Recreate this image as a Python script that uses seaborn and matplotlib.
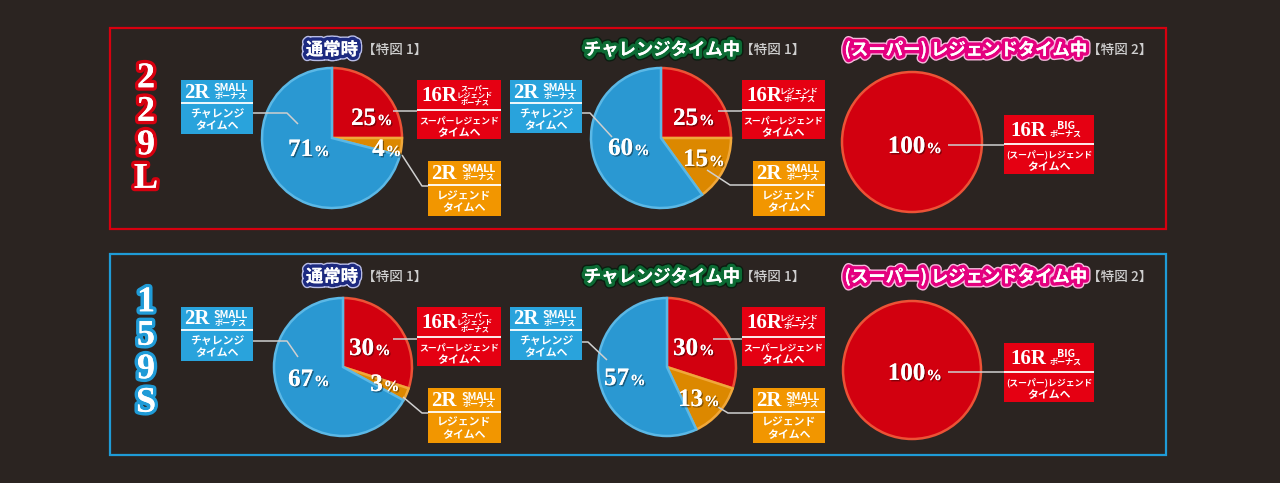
import matplotlib
matplotlib.use("Agg")
import matplotlib.pyplot as plt
import seaborn as sns
from matplotlib import patheffects as pe
from matplotlib.patches import Rectangle

# ---------------- data ----------------
machines = ["229L", "159S"]
mode_titles = ["通常時", "チャレンジタイム中", "(スーパー) レジェンドタイム中"]
tokuzu_labels = ["【特図 1】", "【特図 1】", "【特図 2】"]
# slice order: 16R (red), 2R SMALL -> legend (orange), 2R SMALL -> challenge (blue)
normal_229L = [25, 4, 71]
challenge_229L = [25, 15, 60]
legend_229L = [100]
normal_159S = [30, 3, 67]
challenge_159S = [30, 13, 57]
legend_159S = [100]

box_big = ["16R", "2R", "2R"]
box_small_normal = ["スーパー\nレジェンド\nボーナス", "SMALL\nボーナス", "SMALL\nボーナス"]
box_small_challenge = ["レジェンド\nボーナス", "SMALL\nボーナス", "SMALL\nボーナス"]
box_lower = ["スーパーレジェンド\nタイムへ", "レジェンド\nタイムへ", "チャレンジ\nタイムへ"]
legend_big = "16R"
legend_small = "BIG\nボーナス"
legend_lower = "(スーパー)レジェンド\nタイムへ"

# ---------------- style ----------------
BG = "#2b2421"
PIE_MAIN = ["#d2000f", "#dc8800", "#2a98d2"]
PIE_RIM = ["#ec5236", "#f0a73a", "#5bb8e6"]
BOX_COL = ["#e50012", "#f29600", "#29a3dc"]
PANEL_COL = ["#d7000f", "#1f9bd7"]
SERIF = "Liberation Serif"
JP = ["Noto Sans CJK JP", "DejaVu Sans"]

sns.set_theme(style="dark", rc={"figure.facecolor": BG, "axes.facecolor": BG})
plt.rcParams["font.family"] = JP

W, H = 1280, 483
fig = plt.figure(figsize=(12.8, 4.83), dpi=100)
ax = fig.add_axes([0, 0, 1, 1])
ax.set_facecolor(BG)

rows = [
    dict(dy=0, values=[normal_229L, challenge_229L, legend_229L],
         centers=[(332, 138, 70), (661, 138, 70), (912, 142, 70)],
         side_y=129),
    dict(dy=227, values=[normal_159S, challenge_159S, legend_159S],
         centers=[(343, 367, 69), (667, 367, 69), (912, 370, 69)],
         side_y=353),
]

# percent label positions per row / pie / slice (layout)
pct_pos = [
    [[(370, 117), (385, 148), (307, 148)],
     [(692, 117), (702, 158), (627, 147)],
     [(913, 145)]],
    [[(368, 347), (383, 383), (307, 378)],
     [(692, 347), (697, 398), (623, 377)],
     [(913, 372)]],
]
leaders = [
    [[[(393, 111), (417, 111)], [(402, 155), (422, 186), (429, 186)], [(253, 113), (287, 113), (298, 124)]],
     [[(718, 111), (742, 111)], [(707, 170), (730, 185), (753, 185)], [(582, 113), (590, 113), (612, 137)]],
     [[(948, 145), (1004, 145)]]],
    [[[(393, 339), (417, 339)], [(403, 397), (422, 413), (429, 413)], [(253, 341), (287, 341), (298, 357)]],
     [[(713, 339), (742, 339)], [(718, 407), (728, 413), (753, 413)], [(582, 342), (588, 342), (607, 360)]],
     [[(948, 372), (1004, 372)]]],
]
# boxes (x0, y0, x1, y1, separator) for top row; bottom row shifted by dy
box_geo = [
    [(417, 80, 501, 139, 110), (428, 161, 501, 216, 185), (181, 80, 253, 134, 103)],
    [(742, 80, 825, 139, 110), (753, 161, 825, 216, 185), (510, 80, 582, 133, 103)],
]
legend_box_geo = (1004, 115, 1094, 174, 144)
title_pos = [(332, 395), (662, 773), (966, 1120)]
title_fx = [
    [pe.withStroke(linewidth=7, foreground="#b9bde6"), pe.withStroke(linewidth=5, foreground="#1d2a80"), pe.Normal()],
    [pe.withStroke(linewidth=7, foreground="#0b1d10"), pe.withStroke(linewidth=5, foreground="#0c6b34"), pe.Normal()],
    [pe.withStroke(linewidth=7, foreground="#f6b8dc"), pe.withStroke(linewidth=5, foreground="#e4007f"), pe.Normal()],
]


def pct_label(x, y, val, size=18):
    s = str(val)
    cw = size * 0.5 * 100 / 72
    psize = size * 0.62
    pw = 0.83 * psize * 100 / 72
    wn = cw * len(s)
    left = x - (wn + pw) / 2
    base = y + 8
    fx = [pe.withSimplePatchShadow(offset=(1, -1), shadow_rgbFace="#000000", alpha=0.4), pe.Normal()]
    ax.text(left + wn, base, s, ha="right", va="baseline", family=SERIF, weight="bold",
            size=size, color="white", zorder=7, path_effects=fx)
    ax.text(left + wn + 1, base, "%", ha="left", va="baseline", family=SERIF, weight="bold",
            size=psize, color="white", zorder=7, path_effects=fx)


def label_box(x0, y0, x1, y1, ys, color, big, small, lower):
    ax.add_patch(Rectangle((x0, y0), x1 - x0, y1 - y0, facecolor=color, edgecolor="none", zorder=4))
    ax.plot([x0, x1], [ys, ys], color="white", lw=1.3, zorder=5, solid_capstyle="butt")
    w = x1 - x0
    ty = (y0 + ys) / 2
    bx = x0 + (0.22 if big == "2R" else 0.27) * w
    ax.text(bx, ty + 6, big, ha="center", va="baseline", family=SERIF, weight="bold",
            size=15, color="white", zorder=6)
    sx = x0 + 0.69 * w
    lines = small.split("\n")
    if len(lines) == 3:
        for k, ln in enumerate(lines):
            ax.text(sx, ty - 7 + 7 * k, ln, ha="center", va="center", size=5.2, weight="bold",
                    color="white", zorder=6)
    else:
        first_size = 7.5 if lines[0].isascii() else 5.6
        ax.text(sx, ty - 3.5, lines[0], ha="center", va="center", size=first_size, weight="bold",
                color="white", zorder=6)
        ax.text(sx, ty + 4.5, lines[1], ha="center", va="center", size=5.8, weight="bold",
                color="white", zorder=6)
    low = lower.split("\n")
    lsize = 7.8 if len(low[0]) <= 5 else 6.4
    ax.text((x0 + x1) / 2, ys + 10.5, low[0], ha="center", va="center", size=lsize, weight="bold",
            color="white", zorder=6)
    ax.text((x0 + x1) / 2, ys + 23, low[1], ha="center", va="center", size=7.8, weight="bold",
            color="white", zorder=6)


for ri, row in enumerate(rows):
    dy = row["dy"]
    pcol = PANEL_COL[ri]
    # panel border
    ax.add_patch(Rectangle((110, 28 + dy - (1 if ri else 0)), 1056, 201, facecolor="none",
                           edgecolor=pcol, lw=1.6, zorder=1))
    # side label (vertical stack of characters)
    ax.text(146, row["side_y"], "\n".join(machines[ri]), ha="center", va="center",
            multialignment="center", linespacing=1.02, family=SERIF, weight="bold", size=26,
            color="white", zorder=6,
            path_effects=[pe.withStroke(linewidth=5, foreground=pcol), pe.Normal()])
    # titles
    for ti in range(3):
        tx, kx = title_pos[ti]
        ax.text(tx, 50 + dy, mode_titles[ti], ha="center", va="center", size=12.5, weight="bold",
                color="white", zorder=6, path_effects=title_fx[ti])
        ax.text(kx, 50 + dy, tokuzu_labels[ti], ha="center", va="center", size=9.8,
                color="#cfcfcf", weight="medium", zorder=6)
    # pies
    for pi, vals in enumerate(row["values"]):
        cx, cy, r = row["centers"][pi]
        cols = PIE_MAIN[:len(vals)]
        rims = PIE_RIM[:len(vals)]
        wedges, _ = ax.pie(vals, colors=cols, startangle=270, counterclock=True,
                           center=(cx, cy), radius=r,
                           wedgeprops=dict(linewidth=1.8, zorder=2))
        for wdg, rc in zip(wedges, rims):
            wdg.set_edgecolor(rc)
        # leader lines
        for line in leaders[ri][pi]:
            xs = [p[0] for p in line]
            ys_ = [p[1] for p in line]
            ax.plot(xs, ys_, color="#cfcfcf", lw=1.1, zorder=3, solid_capstyle="butt")
        # percent labels
        for (px, py), v in zip(pct_pos[ri][pi], vals):
            pct_label(px, py, v)
        # boxes
        if pi < 2:
            smalls = box_small_normal if pi == 0 else box_small_challenge
            for bi in range(3):
                x0, y0, x1, y1, ys = box_geo[pi][bi]
                label_box(x0, y0 + dy, x1, y1 + dy, ys + dy, BOX_COL[bi], box_big[bi], smalls[bi], box_lower[bi])
        else:
            x0, y0, x1, y1, ys = legend_box_geo
            d2 = dy + (1 if ri else 0)
            label_box(x0, y0 + d2, x1, y1 + d2, ys + d2, BOX_COL[0], legend_big, legend_small, legend_lower)

ax.set_xlim(0, W)
ax.set_ylim(H, 0)
ax.set_aspect("auto")
ax.axis("off")
fig.savefig("out.png", dpi=100, facecolor=BG)
